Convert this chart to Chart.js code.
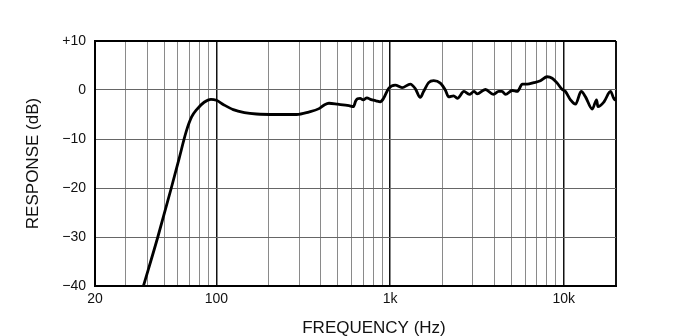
<!DOCTYPE html>
<html>
<head>
<meta charset="utf-8">
<script src="https://cdn.jsdelivr.net/npm/chart.js@4"></script>
<style>
  html, body { margin: 0; padding: 0; background: #fff; }
  canvas { display: block; }
</style>
</head>
<body>
<canvas id="responseChart" width="692" height="336"></canvas>
<script>
// frequency response
const freqHz = [38, 46, 55, 61, 67, 72, 77, 85, 93, 100, 110, 125, 145, 170, 220, 290, 340, 390, 420, 445,
  500, 580, 615, 635, 650, 673, 700, 736, 770, 830, 879, 918, 980, 1071, 1172, 1308, 1396, 1493, 1560, 1668,
  1784, 1947, 2080, 2174, 2323, 2440, 2664, 2860, 3050, 3171, 3540, 3940, 4220, 4415, 4620, 5050, 5400,
  5780, 6160, 6721, 7345, 8027, 8580, 9170, 9800, 10234, 10937, 11690, 12600, 13350, 14600, 15460, 15740,
  17070, 18600, 19650, 20000];
const responseDb = [-40, -30, -20, -14, -8.5, -5.5, -4, -2.5, -1.9, -2.1, -3, -4, -4.6, -4.9, -5.0, -5.0, -4.5, -3.8, -3.0, -2.7,
  -2.9, -3.2, -3.4, -2.2, -1.8, -1.7, -2.0, -1.6, -1.9, -2.2, -2.4, -1.7, 0.3, 1.0, 0.5, 1.2, 0.3, -1.5, -0.3, 1.5,
  1.9, 1.4, 0.0, -1.4, -1.2, -1.7, -0.3, -0.9, -0.3, -0.8, 0.1, -0.9, -0.3, -0.3, -0.9, -0.1, -0.3,
  1.2, 1.2, 1.5, 1.9, 2.7, 2.4, 1.4, 0.1, -0.3, -2.0, -2.9, -0.3, -1.4, -3.9, -2.0, -3.4,
  -2.4, -0.3, -2.0, -1.6];

// grid lines on the log axis and the labelled ones
const gridFreqs = [20, 30, 40, 50, 60, 70, 80, 90, 100, 200, 300, 400, 500, 600, 700, 800, 900,
  1000, 2000, 3000, 4000, 5000, 6000, 7000, 8000, 9000, 10000, 20000];
const labelFreqs = [20, 100, 1000, 10000];
const labelTexts = ['20', '100', '1k', '10k'];
const decadeFreqs = [100, 1000, 10000];

const fontFamily = "'Liberation Sans', Arial, Helvetica, sans-serif";

const axisTitles = {
  id: 'axisTitles',
  afterDraw(chart) {
    const ctx = chart.ctx;
    const area = chart.chartArea;
    ctx.save();
    ctx.fillStyle = '#111';
    ctx.font = '17px ' + fontFamily;
    ctx.textAlign = 'center';
    ctx.textBaseline = 'middle';
    ctx.fillText('FREQUENCY (Hz)', 374, 328);
    ctx.translate(33, (area.top + area.bottom) / 2);
    ctx.rotate(-Math.PI / 2);
    ctx.fillText('RESPONSE (dB)', 0, 0);
    ctx.restore();
  }
};

const ctx = document.getElementById('responseChart');
new Chart(ctx, {
  type: 'scatter',
  data: {
    datasets: [{
      data: freqHz.map((f, i) => ({ x: f, y: responseDb[i] })),
      showLine: true,
      borderColor: '#000',
      borderWidth: 2.8,
      pointRadius: 0,
      cubicInterpolationMode: 'monotone',
      fill: false
    }]
  },
  options: {
    responsive: false,
    animation: false,
    devicePixelRatio: 1,
    layout: { padding: { left: 0, right: 76, top: 41, bottom: 0 } },
    plugins: {
      legend: { display: false },
      tooltip: { enabled: false }
    },
    scales: {
      x: {
        type: 'logarithmic',
        min: 20,
        max: 20000,
        afterBuildTicks: (scale) => {
          scale.ticks = gridFreqs.map(v => ({ value: v }));
        },
        afterFit: (scale) => { scale.height = 50; },
        border: { color: '#000', width: 2 },
        grid: {
          drawTicks: false,
          color: (c) => (decadeFreqs.includes(c.tick.value) || c.tick.value === 20000) ? '#111' : '#8a8a8a',
          lineWidth: (c) => c.tick.value === 20000 ? 2 : (decadeFreqs.includes(c.tick.value) ? 1.5 : 1)
        },
        ticks: {
          autoSkip: false,
          maxRotation: 0,
          padding: 5,
          color: '#111',
          font: { family: fontFamily, size: 14 },
          callback: (value) => {
            const i = labelFreqs.indexOf(value);
            return i >= 0 ? labelTexts[i] : '';
          }
        }
      },
      y: {
        min: -40,
        max: 10,
        afterFit: (scale) => { scale.width = 95; },
        border: { color: '#000', width: 2 },
        grid: {
          drawTicks: false,
          color: (c) => c.tick.value === 10 ? '#000' : '#666',
          lineWidth: (c) => c.tick.value === 10 ? 2 : 1
        },
        ticks: {
          stepSize: 10,
          padding: 9,
          color: '#111',
          font: { family: fontFamily, size: 14 },
          callback: (v) => v > 0 ? '+' + v : (v < 0 ? '\u2212' + Math.abs(v) : '0')
        }
      }
    }
  },
  plugins: [axisTitles]
});
</script>
</body>
</html>
